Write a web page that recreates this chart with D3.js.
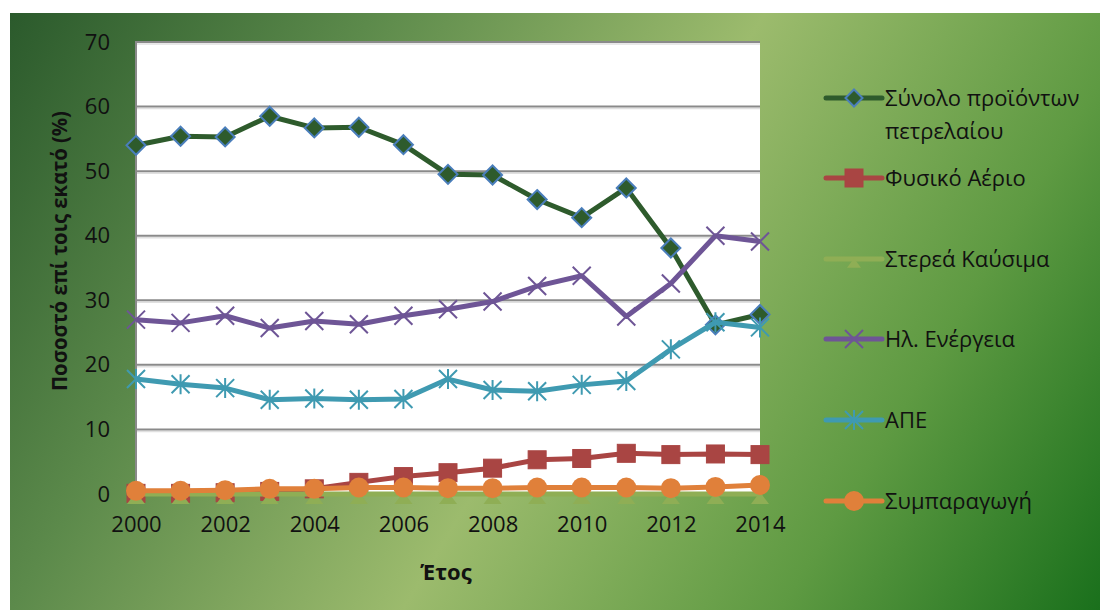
<!DOCTYPE html>
<html><head><meta charset="utf-8">
<script src="https://cdn.jsdelivr.net/npm/d3@7/dist/d3.min.js"></script>
<style>body{margin:0;background:#fff}svg{display:block}text{font-family:"Open Sans","Noto Sans",sans-serif}</style>
</head><body><svg id="c" width="1100" height="610"></svg>
<script>
const years = [2000,2001,2002,2003,2004,2005,2006,2007,2008,2009,2010,2011,2012,2013,2014];
const oil   = [54.0,55.4,55.3,58.5,56.7,56.8,54.1,49.5,49.4,45.6,42.8,47.4,38.1,26.2,27.8];
const gas   = [0.1,0.1,0.2,0.4,0.8,1.8,2.7,3.3,4.0,5.3,5.5,6.3,6.1,6.2,6.1];
const solid = [0.0,0.0,0.0,0.0,0.0,0.0,0.0,0.0,0.0,0.0,0.0,0.0,0.0,0.0,0.0];
const elec  = [27.0,26.5,27.6,25.7,26.8,26.3,27.6,28.6,29.8,32.2,33.8,27.5,32.6,40.0,39.1];
const ape   = [17.8,17.0,16.4,14.6,14.8,14.6,14.7,17.8,16.1,15.9,16.9,17.5,22.4,26.6,25.8];
const cogen = [0.5,0.5,0.6,0.8,0.8,1.0,1.0,0.9,0.9,1.0,1.0,1.0,0.9,1.1,1.4];
const seriesNames = ["Σύνολο προϊόντων πετρελαίου","Φυσικό Αέριο","Στερεά Καύσιμα","Ηλ. Ενέργεια","ΑΠΕ","Συμπαραγωγή"];
const yTicks = [0,10,20,30,40,50,60,70];
const xTicks = [2000,2002,2004,2006,2008,2010,2012,2014];
const yTitle = "Ποσοστό επί τοις εκατό (%)";
const xTitle = "Έτος";

const series = [
  {name:seriesNames[0], values:oil,   color:"#2e5b2c", marker:"diamond"},
  {name:seriesNames[1], values:gas,   color:"#a94543", marker:"square"},
  {name:seriesNames[2], values:solid, color:"#8fae55", marker:"triangle"},
  {name:seriesNames[3], values:elec,  color:"#6e5596", marker:"x"},
  {name:seriesNames[4], values:ape,   color:"#3f9ab1", marker:"star"},
  {name:seriesNames[5], values:cogen, color:"#e0803a", marker:"circle"}
];

const svg = d3.select("#c");
const defs = svg.append("defs");
const g = defs.append("linearGradient").attr("id","bg").attr("gradientUnits","userSpaceOnUse")
  .attr("x1",10).attr("y1",13).attr("x2",1071).attr("y2",657);
[[0,"#2b5a2c"],[0.25,"#5c8a4b"],[0.52,"#9cbb6d"],[0.78,"#5e9a42"],[1,"#1a701c"]].forEach(s=>
  g.append("stop").attr("offset",s[0]).attr("stop-color",s[1]));
svg.append("rect").attr("x",10).attr("y",13).attr("width",1090).attr("height",597).attr("fill","url(#bg)");

const L=136,R=760,T=42,B=494;
const x = d3.scaleLinear().domain([2000,2014]).range([L,R]);
const y = d3.scaleLinear().domain([0,70]).range([B,T]);

svg.append("rect").attr("x",L).attr("y",T).attr("width",R-L).attr("height",B-T).attr("fill","#fff");

// gridlines
const grid = svg.append("g");
grid.selectAll("line.s").data(yTicks.filter(v=>v>0)).join("line")
  .attr("x1",L).attr("x2",R).attr("y1",d=>y(d)+2).attr("y2",d=>y(d)+2)
  .attr("stroke","#e0e0e0").attr("stroke-width",1.5);
grid.selectAll("line.g").data(yTicks.filter(v=>v>0)).join("line")
  .attr("x1",L).attr("x2",R).attr("y1",d=>y(d)).attr("y2",d=>y(d))
  .attr("stroke","#8a8a8a").attr("stroke-width",2);
svg.append("line").attr("x1",L).attr("x2",L).attr("y1",T-1).attr("y2",B).attr("stroke","#8a8a8a").attr("stroke-width",2);

// axes via d3
const yAxis = svg.append("g").attr("transform",`translate(${L-26},0)`)
  .call(d3.axisLeft(y).tickValues(yTicks).tickSize(0).tickPadding(0));
yAxis.select(".domain").remove();
yAxis.selectAll("text").attr("font-size",22).attr("fill","#111").attr("font-family",'"Open Sans",sans-serif');

const xAxis = svg.append("g").attr("transform",`translate(0,${B+22})`)
  .call(d3.axisBottom(x).tickValues(xTicks).tickFormat(d3.format("d")).tickSize(0).tickPadding(0));
xAxis.select(".domain").remove();
xAxis.selectAll("text").attr("font-size",22).attr("fill","#111").attr("font-family",'"Open Sans",sans-serif');

svg.append("text").attr("x",446).attr("y",580).attr("text-anchor","middle")
  .attr("font-size",22).attr("font-weight","bold").attr("fill","#111").text(xTitle);
svg.append("text").attr("transform",`translate(67,251) rotate(-90)`).attr("text-anchor","middle")
  .attr("font-size",21).attr("font-weight","bold").attr("fill","#111")
  .attr("textLength",280).attr("lengthAdjust","spacingAndGlyphs").text(yTitle);

function drawMarker(sel, type, color, size){
  if(type==="diamond"){
    sel.append("path").attr("d",`M0,${-size/2}L${size/2},0L0,${size/2}L${-size/2},0Z`)
      .attr("fill",color).attr("stroke","#4a7ebb").attr("stroke-width",2);
  } else if(type==="square"){
    sel.append("rect").attr("x",-size/2+0.5).attr("y",-size/2+0.5).attr("width",size-1).attr("height",size-1)
      .attr("fill",color).attr("stroke",color).attr("stroke-width",1);
  } else if(type==="triangle"){
    const h=size*0.6;
    sel.append("path").attr("d",`M0,${4-h/2}L${size/2-1},${4+h/2}L${-size/2+1},${4+h/2}Z`)
      .attr("fill",color);
  } else if(type==="x"){
    const s=size/2;
    sel.append("path").attr("d",`M${-s},${-s}L${s},${s}M${s},${-s}L${-s},${s}`)
      .attr("stroke",color).attr("stroke-width",2).attr("fill","none");
  } else if(type==="star"){
    const s=size/2;
    sel.append("path").attr("d",`M${-s},${-s}L${s},${s}M${s},${-s}L${-s},${s}M0,${-s-1}L0,${s+1}`)
      .attr("stroke",color).attr("stroke-width",2).attr("fill","none");
  } else if(type==="circle"){
    sel.append("circle").attr("r",size/2).attr("fill",color);
  }
}

const line = d3.line().x((d,i)=>x(years[i])).y(d=>y(d));
const sizes = {diamond:19,square:19,triangle:20,x:18,star:18,circle:20};
series.forEach(s=>{
  const gs = svg.append("g");
  gs.append("path").attr("d",line(s.values)).attr("fill","none").attr("stroke",s.color)
    .attr("stroke-width",5).attr("stroke-linejoin","round");
  gs.selectAll("g.m").data(s.values).join("g")
    .attr("transform",(d,i)=>`translate(${x(years[i])},${y(d)})`)
    .each(function(){ drawMarker(d3.select(this), s.marker, s.color, sizes[s.marker]); });
});

// legend
const leg = svg.append("g");
const legY = [98,178,259,339,420,501];
series.forEach((s,i)=>{
  const gl = leg.append("g").attr("transform",`translate(0,${legY[i]})`);
  gl.append("line").attr("x1",826).attr("x2",882).attr("y1",0).attr("y2",0).attr("stroke",s.color)
    .attr("stroke-width",5).attr("stroke-linecap","round");
  const m = gl.append("g").attr("transform","translate(854,0)");
  drawMarker(m, s.marker, s.color, s.marker==="triangle"?16:(s.marker==="diamond"?17:sizes[s.marker]));
  const t = gl.append("text").attr("x",885).attr("y",8).attr("font-size",22).attr("fill","#111");
  if(i===0){
    t.append("tspan").attr("x",885).attr("y",8).text("Σύνολο προϊόντων");
    t.append("tspan").attr("x",885).attr("y",41).text("πετρελαίου");
  } else t.text(s.name);
});
</script></body></html>
